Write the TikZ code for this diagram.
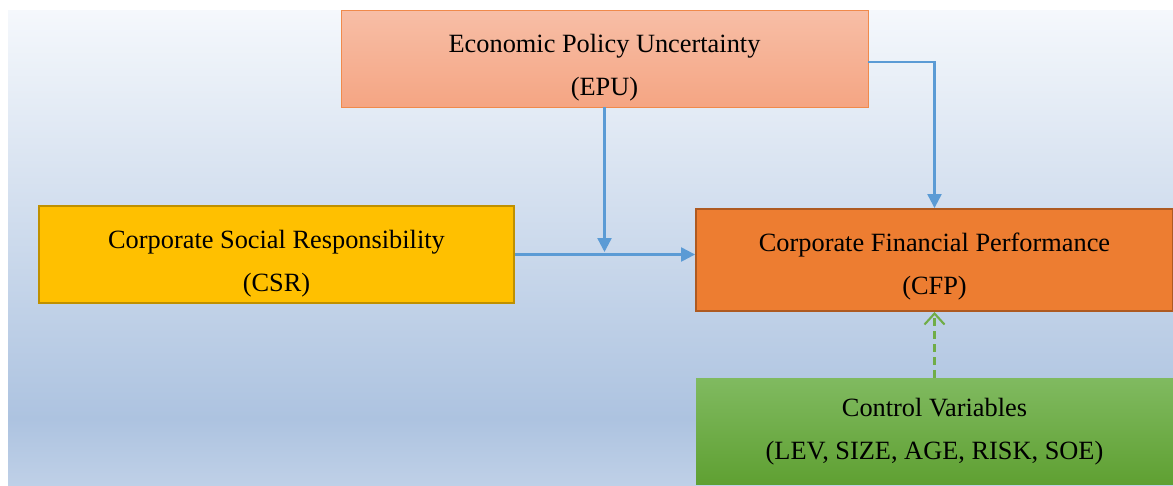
\documentclass[tikz,border=0pt]{standalone}
\usepackage{fontspec}
\setmainfont{Liberation Serif}
\usetikzlibrary{positioning,arrows.meta}

\definecolor{bgtop}{HTML}{F5F8FC}
\definecolor{bgmid}{HTML}{ADC3E0}
\definecolor{bgbot}{HTML}{BFD0E7}
\definecolor{pilblue}{HTML}{5B9BD5}
\definecolor{pilgreen}{HTML}{70AD47}
\definecolor{epuhi}{HTML}{F7BEA6}
\definecolor{epulo}{HTML}{F5A583}
\definecolor{epuline}{HTML}{F08A4B}
\definecolor{csrfill}{HTML}{FFC000}
\definecolor{csrline}{HTML}{BF9000}
\definecolor{cfpfill}{HTML}{ED7D31}
\definecolor{cfpline}{HTML}{AE5A21}
\definecolor{ctrlhi}{HTML}{80BA60}
\definecolor{ctrllo}{HTML}{5FA032}

% light backdrop, darkest a little above the lower edge
\pgfdeclareverticalshading{backdrop}{100bp}{color(0bp)=(bgbot); color(25bp)=(bgbot);
  color(32bp)=(bgmid); color(75bp)=(bgtop); color(100bp)=(bgtop)}

% invisible strut that pushes the text lines a bit down in their box
\newcommand{\lowstrut}[1]{\rule{0pt}{#1}}

\begin{document}
\begin{tikzpicture}[
    x=0.02cm, y=-0.02cm,
    varbox/.style={
        rectangle,
        align=center,
        inner sep=0pt,
        minimum height=1.94cm,
        font=\fontsize{15}{24.5}\selectfont},
    pil/.style={
        -{Triangle[length=0.28cm,width=0.28cm]},
        draw=pilblue,
        line width=1.3pt},
    ctrlpil/.style={
        -{Straight Barb[length=0.22cm,width=0.4cm]},
        draw=pilgreen,
        line width=1.2pt,
        dash pattern=on 0.16cm off 0.1cm}
]

\useasboundingbox (0,0) rectangle (1173,485);
\shade[shading=backdrop] (8,10) rectangle (1173,485);

\node[varbox, minimum width=10.54cm, draw=epuline, top color=epuhi,
      bottom color=epulo] (epu) at (604.5,58.5)
    {\lowstrut{21pt}Economic Policy Uncertainty\\(EPU)};
\node[varbox, minimum width=9.5cm, fill=csrfill, draw=csrline,
      line width=1.1pt] (csr) at (276.5,254.5)
    {\lowstrut{21pt}Corporate Social Responsibility\\(CSR)};
\node[varbox, minimum width=9.54cm, minimum height=2.04cm, fill=cfpfill,
      draw=cfpline, line width=1.1pt] (cfp) at (934.5,260)
    {\lowstrut{18pt}Corporate Financial Performance\\(CFP)};
\node[varbox, minimum width=9.54cm, minimum height=2.12cm, below=1.32cm of cfp,
      top color=ctrlhi, bottom color=ctrllo] (ctrl)
    {Control Variables\\(LEV, SIZE, AGE, RISK, SOE)};

\draw[pil] (csr.east) -- (csr.east -| cfp.west);
\draw[pil, shorten >=0.05cm] (epu.south) -- (epu.south |- csr.east);
\draw[pil] ([yshift=-0.07cm]epu.east) -| (cfp.north);
\draw[ctrlpil] (ctrl.north) -- (cfp.south);

\end{tikzpicture}
\end{document}
